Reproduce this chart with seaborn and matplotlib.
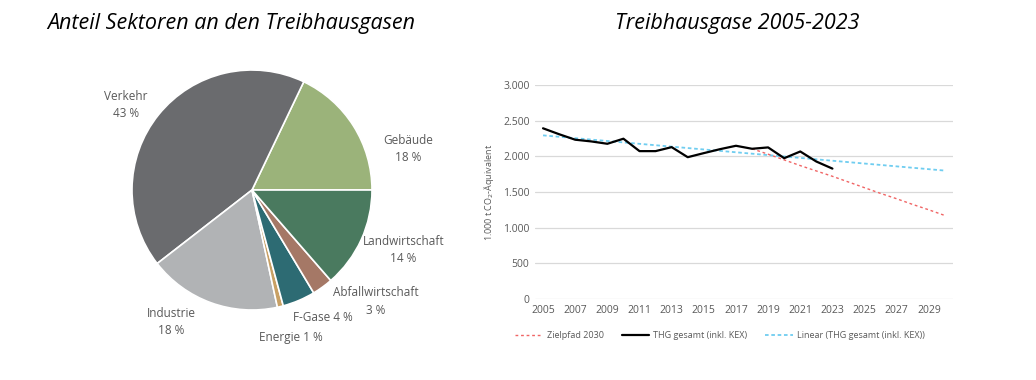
import numpy as np
import pandas as pd
import matplotlib
matplotlib.use("Agg")
import matplotlib.pyplot as plt
import seaborn as sns
from matplotlib.lines import Line2D

# ---------------- data ----------------
sectors = ["Gebäude", "Verkehr", "Industrie", "Energie", "F-Gase", "Abfallwirtschaft", "Landwirtschaft"]
shares = [17.9, 42.6, 17.9, 0.8, 4.4, 2.8, 13.6]
share_labels = ["18 %", "43 %", "18 %", "1 %", "4 %", "3 %", "14 %"]
sector_colors = ["#9BB37A", "#6A6B6E", "#B1B3B5", "#C8A064", "#2D6B73", "#A57866", "#4A7A5F"]

years = list(range(2005, 2024))
thg = [2393, 2310, 2233, 2209, 2176, 2247, 2073, 2073, 2129, 1988, 2045,
       2100, 2148, 2106, 2125, 1974, 2068, 1927, 1828]

ziel_years = list(range(2018, 2031))
ziel = [2106, 2030, 1950, 1870, 1795, 1720, 1640, 1560, 1480, 1405, 1325, 1250, 1170]

trend_years = [2005, 2030]
trend = [2294, 1800]

xtick_years = list(range(2005, 2031, 2))
yticks = [0, 500, 1000, 1500, 2000, 2500, 3000]
ytick_labels = ["0", "500", "1.000", "1.500", "2.000", "2.500", "3.000"]

# ---------------- style ----------------
sns.set_theme(style="white")
plt.rcParams["font.family"] = ["Open Sans", "DejaVu Sans"]
txt = "#595959"

fig = plt.figure(figsize=(10.36, 3.8), dpi=100)

# titles
fig.text(231 / 1036, 1 - 23 / 380, "Anteil Sektoren an den Treibhausgasen",
         ha="center", va="center", fontsize=15.5, style="italic", color="black")
fig.text(737 / 1036, 1 - 23 / 380, "Treibhausgase 2005-2023",
         ha="center", va="center", fontsize=15.5, style="italic", color="black")

# ---------------- pie ----------------
cx, cy, r = 252, 190, 120
axp = fig.add_axes([(cx - r) / 1036, (380 - cy - r) / 380, 2 * r / 1036, 2 * r / 380])
axp.pie(shares, colors=sector_colors, startangle=0, counterclock=True,
        wedgeprops=dict(edgecolor="white", linewidth=1.2))
axp.set_xlim(-1, 1)
axp.set_ylim(-1, 1)
axp.set_aspect("auto")
axp.axis("off")

# (x, y of label block centre in radius units, two-line?)
label_pos = {
    "Gebäude": (1.30, 0.34, True),
    "Verkehr": (-1.05, 0.71, True),
    "Industrie": (-0.67, -1.10, True),
    "Energie": (0.32, -1.23, False),
    "F-Gase": (0.59, -1.06, False),
    "Abfallwirtschaft": (1.03, -0.93, True),
    "Landwirtschaft": (1.26, -0.50, True),
}
dy_line = 0.072  # half line distance in radius units (~8.5 px)
for name, lab in zip(sectors, share_labels):
    x, y, two = label_pos[name]
    if two:
        axp.text(x, y + dy_line, name, ha="center", va="center", fontsize=8.5,
                 color=txt, clip_on=False)
        axp.text(x, y - dy_line, lab, ha="center", va="center", fontsize=8.5,
                 color=txt, clip_on=False)
    else:
        axp.text(x, y, f"{name} {lab}", ha="center", va="center", fontsize=8.5,
                 color=txt, clip_on=False)

# ---------------- line chart ----------------
axl = fig.add_axes([535 / 1036, (380 - 299) / 380, (953 - 535) / 1036, (299 - 85) / 380])
df_thg = pd.DataFrame({"Jahr": years, "Wert": thg})
df_ziel = pd.DataFrame({"Jahr": ziel_years, "Wert": ziel})
df_trend = pd.DataFrame({"Jahr": trend_years, "Wert": trend})

sns.lineplot(data=df_trend, x="Jahr", y="Wert", ax=axl, color="#6FCDF0",
             linewidth=1.3, linestyle=(0, (2, 1.5)), zorder=2)
sns.lineplot(data=df_ziel, x="Jahr", y="Wert", ax=axl, color="#F06565",
             linewidth=1.0, linestyle=(0, (2, 2)), zorder=3)
sns.lineplot(data=df_thg, x="Jahr", y="Wert", ax=axl, color="black",
             linewidth=1.6, zorder=4)

axl.set_xlim(2004.5, 2030.5)
axl.set_ylim(0, 3000)
axl.set_yticks(yticks)
axl.set_yticklabels(ytick_labels)
axl.set_xticks(xtick_years)
axl.set_xticklabels([str(y) for y in xtick_years])
axl.tick_params(axis="both", labelsize=7.5, colors=txt, length=0, pad=4)
axl.yaxis.grid(True, color="#D9D9D9", linewidth=0.9)
axl.xaxis.grid(False)
for sp in axl.spines.values():
    sp.set_visible(False)
axl.set_xlabel("")
axl.set_ylabel("1.000 t CO$_2$-Äquivalent", fontsize=6.5, color=txt, labelpad=5)

handles = [
    Line2D([], [], color="#F06565", linewidth=1.0, linestyle=(0, (2, 2))),
    Line2D([], [], color="black", linewidth=1.6),
    Line2D([], [], color="#6FCDF0", linewidth=1.3, linestyle=(0, (2, 1.5))),
]
labels = ["Zielpfad 2030", "THG gesamt (inkl. KEX)", "Linear (THG gesamt (inkl. KEX))"]
leg = fig.legend(handles, labels, loc="center", bbox_to_anchor=(720 / 1036, 1 - 336 / 380),
                 ncol=3, frameon=False, fontsize=6.5, handlelength=3, columnspacing=2.0,
                 handletextpad=0.5)
for t in leg.get_texts():
    t.set_color(txt)

fig.savefig("out.png", dpi=100)
